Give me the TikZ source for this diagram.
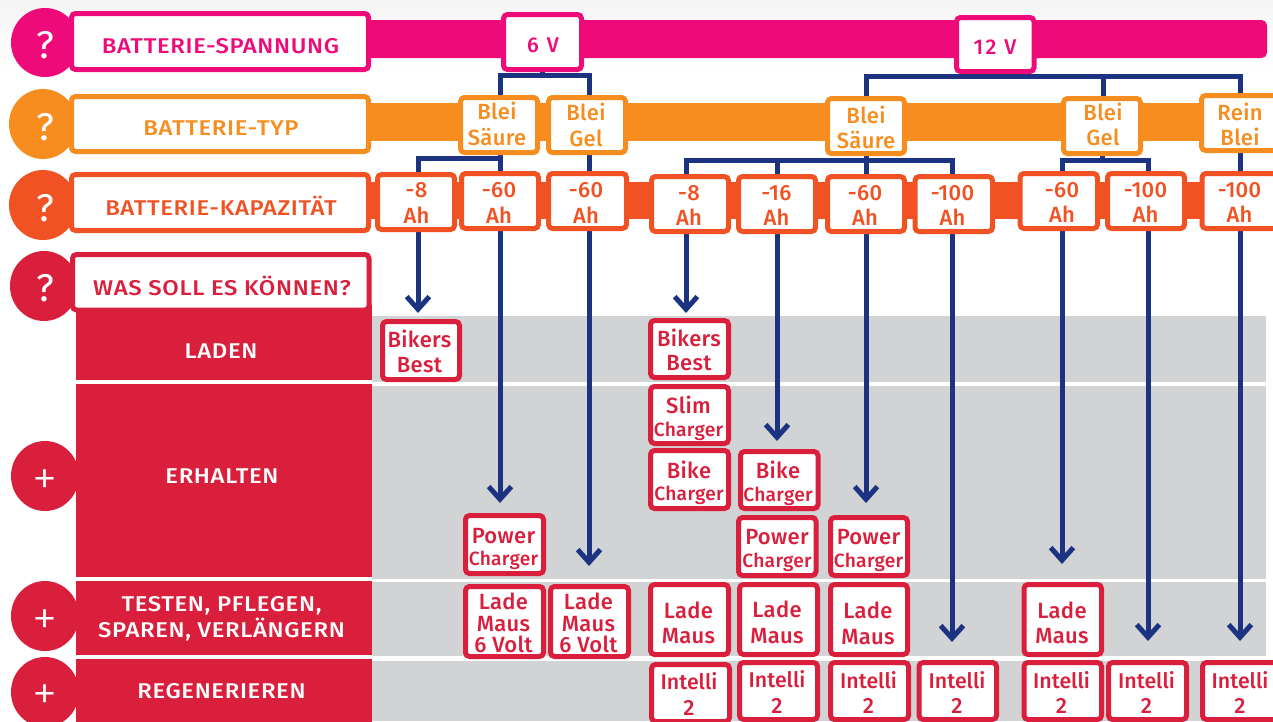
\documentclass[tikz,border=0pt]{standalone}
\usepackage{fontspec}
\setmainfont{Fira Sans}[UprightFont={* Medium}]
\newfontfamily\lspfont[LetterSpace=3,FakeStretch=1.12,UprightFont={* Medium}]{Fira Sans}
\newfontfamily\vspfont[LetterSpace=12,UprightFont={* Medium}]{Fira Sans}
\newfontfamily\bspfont[LetterSpace=1.5,UprightFont={* Medium}]{Fira Sans}
\newfontfamily\plusfont[UprightFont={* Light}]{Fira Sans}
\newfontfamily\quesfont{Fira Sans}
\usetikzlibrary{arrows.meta,shapes.geometric}
\definecolor{cPink}{HTML}{EE0A78}
\definecolor{cOrange}{HTML}{F78D1F}
\definecolor{cRed}{HTML}{F15223}
\definecolor{cCrim}{HTML}{DA1F3D}
\definecolor{cGray}{HTML}{D1D3D4}
\definecolor{cNavy}{HTML}{1C3382}
\pgfdeclarelayer{bglayer}\pgfdeclarelayer{connlayer}
\pgfsetlayers{bglayer,connlayer,main}
\newcommand\pxfont[2]{\fontsize{#1}{#1}#2\selectfont}
\newcommand\bx[7]{%
 \pgfmathsetmacro\bxcx{(#3+#5)/2}\pgfmathsetmacro\bxcy{(#4+#6)/2}%
 \pgfmathsetmacro\bxw{(#5-#3-5)*0.75}\pgfmathsetmacro\bxh{(#6-#4-5)*0.75}%
 \node[#1,minimum width=\bxw pt,minimum height=\bxh pt] (#2) at (\bxcx,\bxcy) {#7};}
\newcommand\bl[3]{\pgfmathsetmacro\bldx{(#1-\bxcx)*0.75}\pgfmathsetmacro\bldy{(\bxcy-#2)*0.75}%
 \hbox to 0pt{\kern\bldx pt\hbox to 0pt{\hss\raisebox{\bldy pt}[0pt][0pt]{#3}\hss}\hss}}
\newcommand\two[5]{\bl{#1}{#2}{#4}\bl{#1}{#3}{#5}}
\newcommand\chg{\fontsize{14.4}{14.4}\bspfont\selectfont Charger}
\newcommand\intl{\fontsize{16}{16}\rmfamily\selectfont Intelli}
\newcommand\plussign{\fontsize{38}{38}\plusfont\selectfont +}
\newcommand\arrowdown[4]{\draw[navyline,-{Straight Barb[length=9.5pt,width=17pt,line width=3.75pt]},shorten >=#4*0.75pt] (#1.south -| #2,0) -- (#3.north -| #2,0);}
\tikzset{
 boxbase/.style={rectangle,rounded corners=3pt,line width=3.75pt,fill=white,inner sep=0pt,outer sep=0pt,draw},
 pinkbox/.style={boxbase,draw=cPink,text=cPink,font=\pxfont{16}{\lspfont}},
 orangebox/.style={boxbase,draw=cOrange,text=cOrange,font=\pxfont{16.5}{\bspfont}},
 redbox/.style={boxbase,draw=cRed,text=cRed,font=\pxfont{16.5}{\bspfont}},
 crimbox/.style={boxbase,draw=cCrim,text=cCrim,font=\pxfont{16.5}{\bspfont}},
 lblorange/.style={orangebox,font=\pxfont{16}{\lspfont}},
 lblred/.style={redbox,font=\pxfont{16}{\lspfont}},
 lblcrim/.style={crimbox,font=\pxfont{16}{\lspfont}},
 block/.style={rectangle,line width=3.75pt,draw=cCrim,fill=cCrim,text=white,inner sep=0pt,outer sep=0pt,font=\pxfont{16}{\lspfont}},
 disc/.style={ellipse,line width=3.75pt,inner sep=0pt,outer sep=0pt,text=white,font=\pxfont{29}{\quesfont}},
 navyline/.style={draw=cNavy,line width=3.75pt},
}
\begin{document}
\begin{tikzpicture}[x=0.75pt,y=-0.75pt]
\useasboundingbox (0,0) rectangle (1273,721);
\clip (0,0) rectangle (1273,721);
\begin{pgfonlayer}{bglayer}
 \fill[white] (0,0) rectangle (1273,721);
 \shade[top color=black!4,bottom color=white] (0,0) rectangle (1273,75);
 \fill[cGray] (372,316) rectangle (1266,382);
 \fill[cGray] (372,386) rectangle (1266,579);
 \fill[cGray] (372,581.5) rectangle (1266,656);
 \fill[cGray] (372,661) rectangle (1266,721);
 \fill[cPink,rounded corners=4pt] (365,20) rectangle (1267,58);
 \fill[cOrange] (365,103) rectangle (1273,141);
 \fill[cRed] (365,182) rectangle (1273,219);
\end{pgfonlayer}
% circles
\bx{disc,draw=cPink,fill=cPink}{qa}{11}{8}{79}{77}{\bl{45}{58}{?}}
\bx{disc,draw=cOrange,fill=cOrange}{qb}{9}{89}{77}{159}{\bl{45}{140}{?}}
\bx{disc,draw=cRed,fill=cRed}{qc}{9}{170}{77}{240}{\bl{45}{221}{?}}
\bx{disc,draw=cCrim,fill=cCrim}{qd}{10}{251}{78}{321}{\bl{45}{301}{?}}
\bx{disc,draw=cCrim,fill=cCrim}{pa}{11}{441}{79}{511}{\bl{45}{495}{\plussign}}
\bx{disc,draw=cCrim,fill=cCrim}{pb}{11}{581}{79}{651}{\bl{45}{635}{\plussign}}
\bx{disc,draw=cCrim,fill=cCrim}{pc}{11}{657}{79}{727}{\bl{45}{710}{\plussign}}
% blocks
\bx{block}{bla}{75.5}{305}{372}{380}{\bl{221}{358}{LADEN}}
\bx{block}{blb}{75.5}{384}{372}{577}{\bl{222}{483}{ERHALTEN}}
\bx{block}{blc}{75.5}{581}{372}{655}{\two{221.5}{611}{637}{TESTEN, PFLEGEN,}{SPAREN, VERLÄNGERN}}
\bx{block}{bld}{75.5}{659}{372}{724}{\bl{221.5}{698}{REGENERIEREN}}
% label boxes
\bx{pinkbox}{la}{69}{11}{371}{72}{\bl{220.5}{53}{BATTERIE-SPANNUNG}}
\bx{lblorange}{lb}{69}{94}{371}{154}{\bl{221}{135}{BATTERIE-TYP}}
\bx{lblred}{lc}{69}{172}{371}{233}{\bl{221}{215}{BATTERIE-KAPAZITÄT}}
\bx{lblcrim}{ld}{70}{252}{371.5}{312.5}{\bl{222}{295}{WAS SOLL ES KÖNNEN?}}
% voltage
\bx{pinkbox}{va}{501}{12}{584}{72}{\bl{543}{52}{\vspfont 6 V}}
\bx{pinkbox}{vb}{954}{15}{1036.5}{74}{\bl{995}{54}{\vspfont 12 V}}
% type
\bx{orangebox}{ta}{458}{95}{540}{155}{\two{497}{119}{145}{Blei}{Säure}}
\bx{orangebox}{tb}{546}{95}{628}{155}{\two{586}{120}{146}{Blei}{Gel}}
\bx{orangebox}{tc}{825}{96}{907}{156}{\two{866}{123}{148}{Blei}{Säure}}
\bx{orangebox}{td}{1061}{96}{1143}{156}{\two{1103}{120}{145}{Blei}{Gel}}
\bx{orangebox}{te}{1199}{93}{1281}{153}{\two{1240}{120}{145}{Rein}{Blei}}
% capacity
\bx{redbox}{ka}{375}{172}{457}{232}{\two{416.5}{197}{223}{-8}{Ah}}
\bx{redbox}{kb}{459}{171}{541}{231}{\two{499}{197}{223}{-60}{Ah}}
\bx{redbox}{kc}{546}{171}{629}{231}{\two{586}{197}{223}{-60}{Ah}}
\bx{redbox}{kd}{649}{174}{731}{234}{\two{689}{200}{225}{-8}{Ah}}
\bx{redbox}{ke}{736}{174}{818}{234}{\two{776.5}{200}{225}{-16}{Ah}}
\bx{redbox}{kf}{825}{174}{907}{234}{\two{865}{200}{225}{-60}{Ah}}
\bx{redbox}{kg}{912.5}{174}{995}{234}{\two{952.5}{200}{225}{-100}{Ah}}
\bx{redbox}{kh}{1017.5}{171}{1100}{231}{\two{1062}{197}{222}{-60}{Ah}}
\bx{redbox}{ki}{1105}{171}{1187}{231}{\two{1145.5}{197}{222}{-100}{Ah}}
\bx{redbox}{kj}{1199.5}{171}{1281}{231}{\two{1239.5}{197}{222}{-100}{Ah}}
% products
\bx{crimbox}{ba}{380}{319}{462}{382}{\two{419.5}{347}{372}{Bikers}{Best}}
\bx{crimbox}{bb}{648}{318}{731}{380}{\two{689}{346}{370}{Bikers}{Best}}
\bx{crimbox}{sa}{648}{384}{731}{446}{\two{688.5}{413}{436}{Slim}{\chg}}
\bx{crimbox}{ca}{648}{448}{731}{511}{\two{689}{478}{500}{Bike}{\chg}}
\bx{crimbox}{cb}{738}{449}{820.5}{511}{\two{778}{478}{501}{Bike}{\chg}}
\bx{crimbox}{pwa}{463}{513}{546}{576}{\two{503.5}{543}{565}{Power}{\chg}}
\bx{crimbox}{pwb}{736}{515}{818.5}{578}{\two{777}{544}{567}{Power}{\chg}}
\bx{crimbox}{pwc}{828}{515}{910}{578}{\two{868.5}{544}{567}{Power}{\chg}}
\bx{crimbox}{ma}{463}{584}{546}{659}{\bl{503.5}{609}{Lade}\bl{503.5}{631}{Maus}\bl{503.5}{652}{6 Volt}}
\bx{crimbox}{mb}{548}{584}{631}{659}{\bl{588.5}{609}{Lade}\bl{588.5}{631}{Maus}\bl{588.5}{652}{6 Volt}}
\bx{crimbox}{mc}{648}{582}{731}{657}{\two{688.5}{618}{643}{Lade}{Maus}}
\bx{crimbox}{md}{737}{582}{820}{657}{\two{777}{617}{643}{Lade}{Maus}}
\bx{crimbox}{me}{828}{582}{910}{657}{\two{868}{618}{644}{Lade}{Maus}}
\bx{crimbox}{mf}{1021.5}{582}{1104}{657}{\two{1062}{618}{643}{Lade}{Maus}}
\bx{crimbox}{ia}{649}{662}{732}{724}{\two{689}{689}{715}{\intl}{2}}
\bx{crimbox}{ib}{737}{660}{820}{722}{\two{777}{687}{713}{\intl}{2}}
\bx{crimbox}{ic}{828}{660}{911}{722}{\two{868.5}{688}{713}{\intl}{2}}
\bx{crimbox}{id}{916.5}{660}{999}{722}{\two{957}{688}{713}{\intl}{2}}
\bx{crimbox}{ie}{1021.5}{660}{1104}{722}{\two{1061.5}{688}{713}{\intl}{2}}
\bx{crimbox}{if}{1106}{660}{1189}{722}{\two{1146.5}{688}{713}{\intl}{2}}
\bx{crimbox}{ig}{1200}{660}{1283}{722}{\two{1240}{688}{713}{\intl}{2}}
% connectors
\coordinate (ja) at (543,75);
\coordinate (jb) at (995,76.5);
\coordinate (jc) at (459,158);
\coordinate (jd) at (866,160);
\coordinate (je) at (1103,160);
\begin{pgfonlayer}{connlayer}
 \draw[navyline] (va.south) -- (va.south |- ja);
 \draw[navyline] (ta.north -| 500,0) |- (ja) -| (tb.north -| 589,0);
 \draw[navyline] (vb.south) -- (vb.south |- jb);
 \draw[navyline] (tc.north -| 866,0) |- (jb) -| (te.north -| 1240,0);
 \draw[navyline] (td.north -| 1103.5,0) -- (jb -| 1103.5,0);
 \draw[navyline] (ta.south -| 500,0) -- (kb.north -| 500,0);
 \draw[navyline] (ka.north -| 418,0) |- (jc) -| (kb.north -| 500,0);
 \draw[navyline] (tb.south -| 589,0) -- (kc.north -| 589,0);
 \draw[navyline] (kd.north -| 686,0) |- (jd) -| (kg.north -| 952,0);
 \draw[navyline] (ke.north -| 777,0) -- (jd -| 777,0);
 \draw[navyline] (tc.south -| 866,0) -- (kf.north -| 866,0);
 \draw[navyline] (kh.north -| 1062,0) |- (je) -| (ki.north -| 1148,0);
 \draw[navyline] (td.south) -- (td.south |- je);
 \draw[navyline] (te.south -| 1240,0) -- (kj.north -| 1240,0);
 \arrowdown{ka}{418}{ba}{8.5}
 \arrowdown{kb}{500}{pwa}{12.5}
 \arrowdown{kc}{589}{mb}{20.5}
 \arrowdown{kd}{686}{bb}{7.5}
 \arrowdown{ke}{777}{cb}{10.5}
 \arrowdown{kf}{866}{pwc}{14.5}
 \arrowdown{kg}{952}{id}{20.5}
 \arrowdown{kh}{1062}{mf}{20.5}
 \arrowdown{ki}{1148}{if}{21.5}
 \arrowdown{kj}{1240}{ig}{21.5}
\end{pgfonlayer}
\end{tikzpicture}
\end{document}
